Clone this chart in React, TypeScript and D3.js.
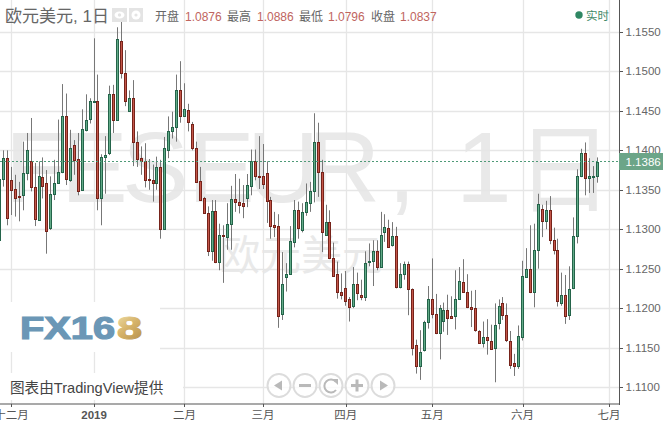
import React from "react";
import * as d3 from "d3";

const opens = [
  1.1286,1.1364,1.1390,1.1362,1.1351,1.1342,1.1343,1.1371,1.1387,1.1353,
  1.1312,1.1366,1.1358,1.1302,1.1345,1.1358,1.1372,1.1444,1.1362,1.1407,
  1.1389,1.1350,1.1426,1.1440,1.1463,1.1463,1.1340,1.1391,1.1397,1.1471,
  1.1439,1.1539,1.1498,1.1450,1.1466,1.1411,1.1390,1.1386,1.1364,1.1362,
  1.1358,1.1379,1.1300,1.1401,1.1425,1.1429,1.1477,1.1444,1.1451,1.1434,
  1.1403,1.1361,1.1339,1.1321,1.1273,1.1323,1.1258,1.1293,1.1290,1.1306,
  1.1338,1.1334,1.1333,1.1340,1.1355,1.1387,1.1368,1.1368,1.1371,1.1337,
  1.1305,1.1304,1.1192,1.1240,1.1243,1.1284,1.1324,1.1299,1.1322,1.1333,
  1.1348,1.1411,1.1372,1.1293,1.1309,1.1264,1.1243,1.1220,1.1226,1.1211,
  1.1203,1.1231,1.1217,1.1214,1.1260,1.1260,1.1272,1.1252,1.1297,1.1301,
  1.1280,1.1291,1.1227,1.1243,1.1256,1.1224,1.1153,1.1127,1.1147,1.1183,
  1.1212,1.1193,1.1168,1.1184,1.1197,1.1190,1.1190,1.1212,1.1233,1.1220,
  1.1201,1.1200,1.1171,1.1156,1.1163,1.1158,1.1150,1.1181,1.1207,1.1191,
  1.1158,1.1130,1.1127,1.1164,1.1240,1.1249,1.1220,1.1274,1.1326,1.1310,
  1.1325,1.1286,1.1274,1.1206,1.1216,1.1191,1.1225,1.1291,1.1367,1.1396,
  1.1365,1.1367,1.1367,
];
const highs = [
  1.1364,1.1400,1.1400,1.1379,1.1369,1.1360,1.1411,1.1422,1.1441,1.1384,
  1.1386,1.1391,1.1375,1.1367,1.1388,1.1439,1.1484,1.1472,1.1426,1.1413,
  1.1422,1.1452,1.1471,1.1466,1.1542,1.1496,1.1395,1.1418,1.1482,1.1483,
  1.1556,1.1569,1.1527,1.1476,1.1489,1.1424,1.1405,1.1409,1.1389,1.1382,
  1.1392,1.1388,1.1417,1.1443,1.1449,1.1496,1.1513,1.1485,1.1459,1.1436,
  1.1411,1.1379,1.1341,1.1329,1.1337,1.1337,1.1307,1.1305,1.1333,1.1355,
  1.1370,1.1364,1.1356,1.1370,1.1401,1.1401,1.1418,1.1408,1.1386,1.1341,
  1.1322,1.1319,1.1271,1.1257,1.1304,1.1337,1.1335,1.1333,1.1358,1.1360,
  1.1447,1.1435,1.1388,1.1331,1.1324,1.1283,1.1259,1.1244,1.1247,1.1214,
  1.1252,1.1245,1.1236,1.1272,1.1282,1.1286,1.1286,1.1322,1.1319,1.1312,
  1.1309,1.1303,1.1257,1.1259,1.1259,1.1225,1.1160,1.1172,1.1184,1.1228,
  1.1263,1.1218,1.1204,1.1207,1.1217,1.1215,1.1248,1.1252,1.1262,1.1243,
  1.1222,1.1223,1.1172,1.1183,1.1186,1.1179,1.1206,1.1211,1.1214,1.1206,
  1.1171,1.1142,1.1178,1.1260,1.1276,1.1305,1.1307,1.1345,1.1331,1.1336,
  1.1342,1.1302,1.1288,1.1245,1.1242,1.1253,1.1315,1.1376,1.1402,1.1410,
  1.1390,1.1380,1.1391,
];
const lows = [
  1.1286,1.1354,1.1305,1.1318,1.1316,1.1310,1.1324,1.1362,1.1348,1.1304,
  1.1312,1.1339,1.1269,1.1299,1.1337,1.1358,1.1371,1.1356,1.1360,1.1369,
  1.1343,1.1350,1.1424,1.1434,1.1462,1.1324,1.1305,1.1345,1.1394,1.1422,
  1.1439,1.1491,1.1456,1.1449,1.1380,1.1379,1.1369,1.1353,1.1350,1.1335,
  1.1350,1.1288,1.1299,1.1390,1.1415,1.1411,1.1435,1.1443,1.1424,1.1400,
  1.1359,1.1337,1.1320,1.1266,1.1260,1.1257,1.1248,1.1232,1.1274,1.1274,
  1.1322,1.1320,1.1314,1.1328,1.1343,1.1362,1.1351,1.1351,1.1308,1.1288,
  1.1290,1.1175,1.1185,1.1221,1.1242,1.1277,1.1288,1.1296,1.1317,1.1322,
  1.1334,1.1341,1.1271,1.1293,1.1262,1.1241,1.1212,1.1211,1.1203,1.1183,
  1.1200,1.1210,1.1210,1.1209,1.1253,1.1228,1.1248,1.1252,1.1284,1.1278,
  1.1278,1.1225,1.1225,1.1236,1.1191,1.1140,1.1117,1.1109,1.1145,1.1174,
  1.1187,1.1167,1.1135,1.1170,1.1166,1.1187,1.1173,1.1212,1.1220,1.1200,
  1.1176,1.1170,1.1155,1.1150,1.1141,1.1147,1.1106,1.1173,1.1185,1.1157,
  1.1123,1.1114,1.1123,1.1159,1.1239,1.1219,1.1201,1.1250,1.1290,1.1300,
  1.1281,1.1268,1.1202,1.1203,1.1180,1.1185,1.1224,1.1282,1.1366,1.1343,
  1.1346,1.1346,1.1359,
];
const closes = [
  1.1364,1.1390,1.1314,1.1350,1.1340,1.1341,1.1371,1.1400,1.1353,1.1313,
  1.1367,1.1355,1.1298,1.1345,1.1358,1.1373,1.1444,1.1364,1.1403,1.1388,
  1.1349,1.1427,1.1439,1.1463,1.1463,1.1340,1.1391,1.1394,1.1472,1.1439,
  1.1541,1.1498,1.1463,1.1466,1.1410,1.1389,1.1387,1.1362,1.1362,1.1358,
  1.1379,1.1300,1.1403,1.1424,1.1429,1.1477,1.1444,1.1452,1.1436,1.1403,
  1.1360,1.1337,1.1321,1.1273,1.1323,1.1258,1.1293,1.1291,1.1306,1.1338,
  1.1334,1.1331,1.1330,1.1356,1.1386,1.1367,1.1367,1.1357,1.1336,1.1304,
  1.1303,1.1190,1.1231,1.1243,1.1285,1.1324,1.1301,1.1322,1.1334,1.1349,
  1.1411,1.1372,1.1297,1.1309,1.1263,1.1241,1.1221,1.1216,1.1209,1.1202,
  1.1231,1.1219,1.1214,1.1257,1.1260,1.1272,1.1252,1.1293,1.1303,1.1278,
  1.1291,1.1227,1.1243,1.1256,1.1224,1.1150,1.1127,1.1145,1.1183,1.1212,
  1.1192,1.1168,1.1200,1.1197,1.1188,1.1188,1.1212,1.1234,1.1220,1.1201,
  1.1199,1.1172,1.1156,1.1163,1.1159,1.1148,1.1179,1.1203,1.1191,1.1159,
  1.1128,1.1127,1.1165,1.1241,1.1249,1.1220,1.1274,1.1332,1.1310,1.1324,
  1.1286,1.1274,1.1209,1.1216,1.1190,1.1224,1.1291,1.1367,1.1397,1.1365,
  1.1367,1.1367,1.1385,
];
const priceTicks = [1.155, 1.15, 1.145, 1.14, 1.135, 1.13, 1.125, 1.12, 1.115, 1.11];
const monthLabels = ["十二月", "2019", "二月", "三月", "四月", "五月", "六月", "七月"];
const monthIndex = [3, 24, 47, 67, 88, 110, 133, 155];
const lastPrice = 1.1386;
const legendLabels = ["开盘", "最高", "最低", "收盘"];
const legendValues = ["1.0876", "1.0886", "1.0796", "1.0837"];
const legendLabelX = [155, 227, 299, 371];
const legendValueX = [185, 257, 328, 400];
const navCentres = [279, 305, 331, 357, 383];
const watermarkGlyphs = ["F", "E", "S", "E", "U", "R", ",", "1"];
const watermarkX = [5, 61, 122, 188, 247, 308, 388, 456];

const SANS = "'Liberation Sans', Arial, 'Noto Sans CJK SC', sans-serif";
const UP_F = "#62ab88", UP_S = "#24644a", DN_F = "#c4574a", DN_S = "#76231a";
const GRID = "#e6e6e6";
const MARK = "#e9e9e9";

const x = d3.scaleLinear().domain([0, 152]).range([-0.3, 597.3]);
const y = d3.scaleLinear().domain([1.11, 1.155]).range([387, 32]);

export default function App() {
  const axisX = 619.5;
  const axisY = 404;
  const lastY = Math.floor(y(lastPrice)) + 0.5;
  return (
    <svg width={667} height={422} style={{ position: "absolute", left: 0, top: 0, background: "#fff" }} fontFamily={SANS}>
      <defs>
        <linearGradient id="gold" x1="0" x2="0.6" y1="0" y2="1">
          <stop offset="0" stopColor="#f1e3ae" />
          <stop offset="0.55" stopColor="#d6b36a" />
          <stop offset="1" stopColor="#bb954f" />
        </linearGradient>
      </defs>
      {/* watermark */}
      {watermarkGlyphs.map((g, i) => (
        <text key={i} x={watermarkX[i]} y={202} fontSize={100} fill={MARK} fontFamily="'Liberation Sans', sans-serif">{g}</text>
      ))}
      <text x={516} y={204} fontSize={97} fill={MARK} fontFamily="'Noto Sans CJK SC', sans-serif">日</text>
      <text x={219} y={270} fontSize={41} fill={MARK} fontFamily="'Noto Sans CJK SC', sans-serif">欧元美元</text>
      {/* grid */}
      {priceTicks.map((p) => (
        <line key={p} x1={0} x2={axisX} y1={Math.round(y(p)) + 0.5} y2={Math.round(y(p)) + 0.5} stroke={GRID} strokeWidth={1.3} />
      ))}
      {monthIndex.map((m) => (
        <line key={m} x1={Math.round(x(m)) + 0.5} x2={Math.round(x(m)) + 0.5} y1={0} y2={axisY} stroke={GRID} strokeWidth={1.3} />
      ))}
      {/* candles */}
      {opens.map((o, i) => {
        const c = closes[i];
        const up = c >= o;
        const cx = Math.floor(x(i)) + 0.5;
        const top = Math.round(y(Math.max(o, c))) + 0.5;
        const bot = Math.round(y(Math.min(o, c))) + 0.5;
        return (
          <g key={i}>
            <line x1={cx} x2={cx} y1={y(highs[i])} y2={y(lows[i])} stroke="#777" strokeWidth={1} />
            <rect x={cx - 1} width={2} y={top} height={Math.max(bot - top, 1)} fill={up ? UP_F : DN_F} stroke={up ? UP_S : DN_S} strokeWidth={1} />
          </g>
        );
      })}
      {/* last price */}
      <line x1={0} x2={axisX} y1={lastY} y2={lastY} stroke="#4f9a78" strokeWidth={1} strokeDasharray="2 2" />
      {/* logo box */}
      <rect x={0} y={302} width={160} height={50} fill="#fff" />
      <rect x={0} y={373} width={183} height={27} fill="#fff" />
      <text x={20} y={338.5} fontSize={31} fontWeight="bold" fill="#6b97b6" stroke="#6b97b6" strokeWidth={1.2} textLength={95} lengthAdjust="spacingAndGlyphs" fontFamily="'Liberation Sans', sans-serif">FX16</text>
      <text x={117} y={338.5} fontSize={31} fontWeight="bold" fill="url(#gold)" stroke="url(#gold)" strokeWidth={1.2} textLength={25} lengthAdjust="spacingAndGlyphs" fontFamily="'Liberation Sans', sans-serif">8</text>
      <text x={10} y={393} fontSize={14.6} fill="#444" fontFamily="'Liberation Sans','Noto Sans CJK SC',sans-serif">图表由TradingView提供</text>
      {/* nav buttons */}
      {navCentres.map((cx) => (
        <circle key={cx} cx={cx} cy={385.5} r={11.5} fill="#fff" fillOpacity={0.8} stroke="#dcdcdc" strokeWidth={2} />
      ))}
      <path d={`M${navCentres[0] - 5},385.5 L${navCentres[0] + 3},380.5 L${navCentres[0] + 3},390.5 Z`} fill="#b9b9b9" />
      <rect x={navCentres[1] - 6} y={384} width={12} height={3} fill="#b9b9b9" />
      <path d={`M${navCentres[2] + 5},382 A6.5,6.5 0 1 0 ${navCentres[2] + 5},390`} fill="none" stroke="#b9b9b9" strokeWidth={2} />
      <path d={`M${navCentres[2] + 1},379 L${navCentres[2] + 7},379 L${navCentres[2] + 7},385 Z`} fill="#b9b9b9" />
      <rect x={navCentres[3] - 6} y={384} width={12} height={3} fill="#b9b9b9" />
      <rect x={navCentres[3] - 1.5} y={379.5} width={3} height={12} fill="#b9b9b9" />
      <path d={`M${navCentres[4] + 5},385.5 L${navCentres[4] - 3},380.5 L${navCentres[4] - 3},390.5 Z`} fill="#b9b9b9" />
      {/* axes */}
      <line x1={axisX} x2={axisX} y1={0} y2={axisY + 1} stroke="#555" strokeWidth={1} />
      <line x1={0} x2={axisX} y1={axisY} y2={axisY} stroke="#555" strokeWidth={1.2} />
      {priceTicks.map((p) => (
        <g key={p}>
          <line x1={axisX} x2={axisX + 3.5} y1={Math.round(y(p)) + 0.5} y2={Math.round(y(p)) + 0.5} stroke="#555" />
          <text x={625.5} y={y(p) + 4} fontSize={11.5} fill="#666">{p.toFixed(4)}</text>
        </g>
      ))}
      {monthIndex.map((m, i) => (
        <g key={m}>
          <line x1={Math.round(x(m)) + 0.5} x2={Math.round(x(m)) + 0.5} y1={axisY} y2={axisY + 3} stroke="#555" />
          <text x={x(m)} y={419} textAnchor="middle" fontSize={11.5} fontWeight={monthLabels[i] === "2019" ? "bold" : "normal"} fill="#555">{monthLabels[i]}</text>
        </g>
      ))}
      <rect x={619} y={153} width={44} height={17} fill="#6ca588" />
      <text x={625.5} y={166} fontSize={11.5} fill="#fff">{lastPrice.toFixed(4)}</text>
      {/* header */}
      <text x={5} y={22} fontSize={17} fill="#666" fontFamily="'Liberation Sans','Noto Sans CJK SC',sans-serif">欧元美元, 1日</text>
      <rect x={112} y={8} width={15} height={14} fill="#e4e4e4" />
      <rect x={129} y={8} width={14} height={14} fill="#e4e4e4" />
      <ellipse cx={119.5} cy={15} rx={5} ry={3.5} fill="#fff" />
      <circle cx={119.5} cy={15} r={1.7} fill="#e4e4e4" />
      <circle cx={136} cy={15} r={4.5} fill="#fff" />
      <circle cx={136} cy={15} r={1.6} fill="#e4e4e4" />
      {legendLabels.map((l, i) => (
        <g key={l}>
          <text x={legendLabelX[i]} y={21} fontSize={12} fill="#666">{l}</text>
          <text x={legendValueX[i]} y={21} fontSize={12} fill="#c0655e">{legendValues[i]}</text>
        </g>
      ))}
      <circle cx={579} cy={15} r={3.7} fill="#2f8763" />
      <text x={586} y={19.5} fontSize={11.5} fill="#3f8a68">实时</text>
    </svg>
  );
}
